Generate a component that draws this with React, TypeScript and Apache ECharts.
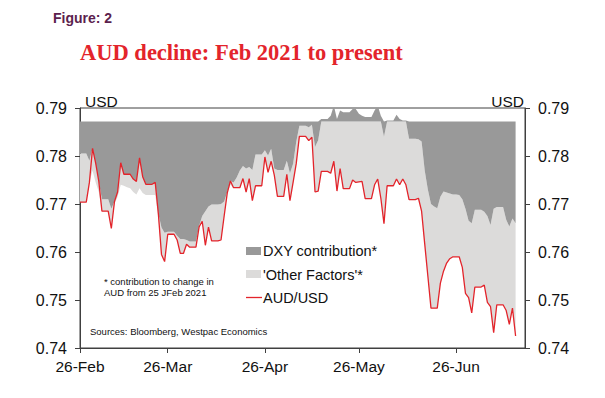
import React, { useEffect, useRef } from "react";
import * as echarts from "echarts";

// ---- data ----
const startYear = 2021;
const startMonth = 1; // February (0-based)
const startDay = 26; // first day on the axis: 26-Feb-2021
const axisDayCount = 143; // 26-Feb .. 18-Jul
const monthAbbr = ["Jan", "Feb", "Mar", "Apr", "May", "Jun", "Jul", "Aug", "Sep", "Oct", "Nov", "Dec"];

// AUD level on 25 Feb 2021 (reference level of the decomposition)
const startLevel = 0.7872;

// AUD/USD, daily from 26-Feb-2021 (weekends carry Friday's value)
const audUsd = [
  0.7704, 0.7704, 0.7704, 0.7745, 0.7816, 0.7785, 0.7747, 0.7685, 0.7685, 0.7685,
  0.7649, 0.7705, 0.7725, 0.7786, 0.7762, 0.7762, 0.7762, 0.7752, 0.7747, 0.7796,
  0.7757, 0.7741, 0.7741, 0.7741, 0.7745, 0.768, 0.7595, 0.758, 0.7637, 0.7637,
  0.7637, 0.7625, 0.7597, 0.7597, 0.7616, 0.761, 0.761, 0.761, 0.7652, 0.7664,
  0.7614, 0.7652, 0.7623, 0.7623, 0.7623, 0.7625, 0.7675, 0.7723, 0.7748, 0.7734,
  0.7734, 0.7734, 0.7753, 0.7725, 0.7753, 0.7707, 0.7738, 0.7738, 0.7738, 0.7798,
  0.7766, 0.7789, 0.776, 0.7716, 0.7716, 0.7716, 0.7762, 0.7707, 0.7745, 0.7784,
  0.7841, 0.7841, 0.7841, 0.7832, 0.7839, 0.7725, 0.7727, 0.7768, 0.7768, 0.7768,
  0.7764, 0.7789, 0.7727, 0.7774, 0.7732, 0.7732, 0.7732, 0.775, 0.7745, 0.7746,
  0.7747, 0.7711, 0.7711, 0.7711, 0.774, 0.7752, 0.7712, 0.7659, 0.7738, 0.7738,
  0.7738, 0.7752, 0.774, 0.7752, 0.774, 0.7709, 0.7709, 0.7709, 0.7712, 0.7685,
  0.7617, 0.755, 0.7483, 0.7483, 0.7483, 0.7535, 0.756, 0.7577, 0.7586, 0.759,
  0.759, 0.759, 0.7568, 0.7514, 0.7505, 0.7473, 0.7527, 0.7527, 0.7527, 0.7531,
  0.7495, 0.7486, 0.7432, 0.749, 0.749, 0.749, 0.7478, 0.7449, 0.7483, 0.7425,
];

// start level + DXY contribution (the dark / light boundary)
const dxyImplied = [
  0.7805, 0.7805, 0.7805, 0.779, 0.777, 0.7745, 0.7725, 0.771, 0.771, 0.771,
  0.769, 0.77, 0.7715, 0.774, 0.7738, 0.7735, 0.7733, 0.7725, 0.772, 0.7733,
  0.7723, 0.7719, 0.7719, 0.7719, 0.7719, 0.7671, 0.7651, 0.764, 0.7642, 0.7642,
  0.7642, 0.7634, 0.7627, 0.7627, 0.7625, 0.7622, 0.7622, 0.7622, 0.7654, 0.7675,
  0.7685, 0.7695, 0.7699, 0.7699, 0.7699, 0.77, 0.7705, 0.7725, 0.774, 0.7745,
  0.7755, 0.777, 0.7779, 0.7774, 0.7777, 0.7771, 0.7803, 0.7803, 0.7803, 0.7812,
  0.7801, 0.7815, 0.7774, 0.7771, 0.7771, 0.7771, 0.779, 0.7764, 0.7784, 0.7829,
  0.7863, 0.7863, 0.7863, 0.786, 0.7865, 0.7819, 0.7833, 0.7877, 0.7877, 0.7877,
  0.7884, 0.7905, 0.7877, 0.7895, 0.7891, 0.7891, 0.7891, 0.7898, 0.7898, 0.7888,
  0.7884, 0.7881, 0.7881, 0.7881, 0.7895, 0.7905, 0.7884, 0.784, 0.7874, 0.7874,
  0.7874, 0.7886, 0.7877, 0.7874, 0.7874, 0.7836, 0.7836, 0.7836, 0.7835, 0.783,
  0.777, 0.773, 0.77, 0.7695, 0.7691, 0.7715, 0.7726, 0.7724, 0.7722, 0.772,
  0.772, 0.7719, 0.771, 0.769, 0.7665, 0.766, 0.7688, 0.7688, 0.7688, 0.7684,
  0.7675, 0.7656, 0.769, 0.7694, 0.7694, 0.7694, 0.7667, 0.7653, 0.767, 0.766,
];

const yMin = 0.74;
const yMax = 0.79;
const yStep = 0.01;

const seriesNames = {
  dxy: "DXY contribution*",
  other: "'Other Factors'*",
  aud: "AUD/USD",
};

const COLORS = {
  dark: "#999999",
  light: "#dcdbda",
  red: "#e3242b",
  axis: "#404040",
  text: "#111111",
};

const FONT = "'Liberation Sans', Arial, sans-serif";

function buildDates(): Date[] {
  const out: Date[] = [];
  for (let i = 0; i < axisDayCount; i++) {
    out.push(new Date(startYear, startMonth, startDay + i));
  }
  return out;
}

export default function App() {
  const ref = useRef<HTMLDivElement>(null);

  useEffect(() => {
    if (!ref.current) return;
    const chart = echarts.init(ref.current, null, { renderer: "svg" });

    const dates = buildDates();
    const categories = dates.map((d) => `${d.getDate()}-${monthAbbr[d.getMonth()]}`);
    const isTickDay = (index: number) => dates[index] && dates[index].getDate() === 26;

    // visible bands: dark between max(L0,D) and min(L0,max(A,D)); light down to min(A,D)
    const base: number[] = [];
    const lightBand: number[] = [];
    const darkBand: number[] = [];
    audUsd.forEach((a, i) => {
      const d = dxyImplied[i];
      const u1 = Math.max(startLevel, d);
      const u2 = Math.min(startLevel, Math.max(a, d));
      const u3 = Math.min(a, d);
      base.push(u3);
      lightBand.push(u2 - u3);
      darkBand.push(u1 - u2);
    });

    const yAxisCommon = {
      type: "value",
      min: yMin,
      max: yMax,
      interval: yStep,
      splitLine: { show: false },
      axisLine: { show: true, lineStyle: { color: COLORS.axis, width: 1 } },
      axisTick: { show: true, length: 5, lineStyle: { color: COLORS.axis } },
      axisLabel: {
        margin: 13,
        fontSize: 16,
        fontFamily: FONT,
        color: COLORS.text,
        formatter: (v: number) => v.toFixed(2),
      },
    };

    chart.setOption({
      animation: false,
      backgroundColor: "#ffffff",
      grid: {
        left: 80,
        right: 80,
        top: 108,
        bottom: 50,
        show: true,
        borderColor: COLORS.axis,
        borderWidth: 1,
        backgroundColor: "transparent",
      },
      xAxis: {
        type: "category",
        data: categories,
        boundaryGap: false,
        z: 10,
        axisLine: { show: true, lineStyle: { color: COLORS.axis, width: 1 } },
        axisTick: {
          show: true,
          length: 5,
          interval: (i: number) => isTickDay(i),
          lineStyle: { color: COLORS.axis },
        },
        axisLabel: {
          interval: (i: number) => isTickDay(i),
          margin: 10,
          fontSize: 15.5,
          fontFamily: FONT,
          color: COLORS.text,
        },
        splitLine: { show: false },
      },
      yAxis: [
        { ...yAxisCommon, position: "left" },
        { ...yAxisCommon, position: "right" },
      ],
      series: [
        {
          name: "base",
          type: "line",
          stack: "decomp",
          data: base,
          symbol: "none",
          silent: true,
          lineStyle: { opacity: 0, width: 0 },
        },
        {
          name: seriesNames.other,
          type: "line",
          stack: "decomp",
          data: lightBand,
          symbol: "none",
          silent: true,
          lineStyle: { opacity: 0, width: 0 },
          areaStyle: { color: COLORS.light, opacity: 1 },
        },
        {
          name: seriesNames.dxy,
          type: "line",
          stack: "decomp",
          data: darkBand,
          symbol: "none",
          silent: true,
          lineStyle: { opacity: 0, width: 0 },
          areaStyle: { color: COLORS.dark, opacity: 1 },
        },
        {
          name: seriesNames.aud,
          type: "line",
          data: audUsd,
          symbol: "none",
          lineStyle: { color: COLORS.red, width: 1.3 },
          z: 5,
        },
      ],
      graphic: [
        {
          type: "text",
          x: 53,
          y: 18,
          style: {
            text: "Figure: 2",
            fill: "#5c1f4e",
            font: `bold 14px ${FONT}`,
            verticalAlign: "middle",
          },
        },
        {
          type: "text",
          x: 80,
          y: 52,
          style: {
            text: "AUD decline: Feb 2021 to present",
            fill: COLORS.red,
            font: "bold 22.5px 'Liberation Serif', 'Times New Roman', serif",
            verticalAlign: "middle",
          },
        },
        {
          type: "text",
          x: 85,
          y: 101,
          style: { text: "USD", fill: COLORS.text, font: `15.5px ${FONT}`, verticalAlign: "middle" },
        },
        {
          type: "text",
          x: 524,
          y: 101,
          style: {
            text: "USD",
            fill: COLORS.text,
            font: `15.5px ${FONT}`,
            align: "right",
            verticalAlign: "middle",
          },
        },
        // legend
        { type: "rect", shape: { x: 246, y: 247, width: 15, height: 8 }, style: { fill: COLORS.dark } },
        {
          type: "text",
          x: 263,
          y: 251,
          style: { text: seriesNames.dxy, fill: COLORS.text, font: `14.5px ${FONT}`, verticalAlign: "middle" },
        },
        { type: "rect", shape: { x: 246, y: 270, width: 15, height: 8 }, style: { fill: COLORS.light } },
        {
          type: "text",
          x: 263,
          y: 274.5,
          style: { text: seriesNames.other, fill: COLORS.text, font: `14.5px ${FONT}`, verticalAlign: "middle" },
        },
        {
          type: "line",
          shape: { x1: 246, y1: 297.5, x2: 262, y2: 297.5 },
          style: { stroke: COLORS.red, lineWidth: 1.3 },
        },
        {
          type: "text",
          x: 263,
          y: 298,
          style: { text: seriesNames.aud, fill: COLORS.text, font: `14.5px ${FONT}`, verticalAlign: "middle" },
        },
        // notes
        {
          type: "text",
          x: 104,
          y: 276,
          style: {
            text: "* contribution to change in\nAUD from 25 JFeb 2021",
            fill: COLORS.text,
            font: `9.5px ${FONT}`,
            lineHeight: 11,
          },
        },
        {
          type: "text",
          x: 90,
          y: 331,
          style: {
            text: "Sources: Bloomberg, Westpac Economics",
            fill: COLORS.text,
            font: `9.5px ${FONT}`,
            verticalAlign: "middle",
          },
        },
      ],
    });

    return () => chart.dispose();
  }, []);

  return (
    <div
      ref={ref}
      style={{ position: "absolute", left: 0, top: 0, width: 605, height: 398, background: "#fff" }}
    />
  );
}
